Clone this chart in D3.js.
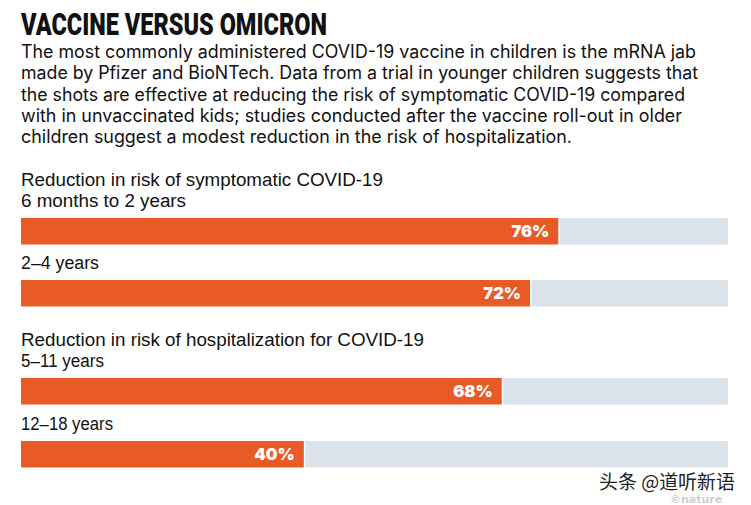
<!DOCTYPE html>
<html>
<head>
<meta charset="utf-8">
<script src="https://cdn.jsdelivr.net/npm/d3@7"></script>
<style>
  html, body { margin: 0; padding: 0; background: #fff; }
  svg { display: block; }
</style>
</head>
<body>
<svg id="chart" width="751" height="505"></svg>
<script>
// ---- data ----
const title = "VACCINE VERSUS OMICRON";
const subtitleLines = [
  "The most commonly administered COVID-19 vaccine in children is the mRNA jab",
  "made by Pfizer and BioNTech. Data from a trial in younger children suggests that",
  "the shots are effective at reducing the risk of symptomatic COVID-19 compared",
  "with in unvaccinated kids; studies conducted after the vaccine roll-out in older",
  "children suggest a modest reduction in the risk of hospitalization."
];
const groups = ["Reduction in risk of symptomatic COVID-19", "Reduction in risk of hospitalization for COVID-19"];
const categories = ["6 months to 2 years", "2–4 years", "5–11 years", "12–18 years"];
const categoryGroup = [0, 0, 1, 1];
const values = [76, 72, 68, 40];
const watermark = "头条 @道听新语";

// ---- layout ----
const svg = d3.select("#chart");
const left = 21, right = 728;
const x = d3.scaleLinear().domain([0, 100]).range([left, right]);
const barTops = [218, 280, 378, 441];
const barH = 26.5;
const orange = "#E95B26", grey = "#DDE3EB";

// title
svg.append("text")
  .attr("x", left).attr("y", 35)
  .attr("font-family", "Roboto, 'Liberation Sans', sans-serif")
  .attr("font-weight", 900)
  .attr("font-size", 31)
  .attr("fill", "#111")
  .attr("textLength", 306).attr("lengthAdjust", "spacingAndGlyphs")
  .text(title);

// subtitle
const sub = svg.append("g");
const subW = [675, 677, 664, 661, 551];
subtitleLines.forEach((line, i) => {
  sub.append("text")
    .attr("x", left).attr("y", 58 + i * 21.3)
    .attr("font-family", "Inter, 'Noto Sans', sans-serif")
    .attr("font-size", 18)
    .attr("fill", "#111")
    .attr("textLength", subW[i]).attr("lengthAdjust", "spacingAndGlyphs")
    .text(line);
});

const labelFont = "'Liberation Sans Narrow', 'Liberation Sans', Arial, sans-serif";
// group headers
const groupFirst = groups.map((g, gi) => categoryGroup.indexOf(gi));
const headerW = [362, 403];
groups.forEach((g, gi) => {
  const idx = groupFirst[gi];
  svg.append("text")
    .attr("x", left).attr("y", barTops[idx] - 11 - 21.5)
    .attr("font-family", labelFont)
    .attr("font-size", 18)
    .attr("fill", "#111")
    .attr("textLength", headerW[gi]).attr("lengthAdjust", "spacingAndGlyphs")
    .text(g);
});

// category labels
const catW = [165, 78, 83, 92];
categories.forEach((c, i) => {
  svg.append("text")
    .attr("x", left).attr("y", barTops[i] - 11)
    .attr("font-family", labelFont)
    .attr("font-size", 18)
    .attr("fill", "#111")
    .attr("textLength", catW[i]).attr("lengthAdjust", "spacingAndGlyphs")
    .text(c);
});

// bars
const rows = svg.append("g").selectAll("g").data(values).join("g");
rows.append("rect")
  .attr("x", (d) => x(d) + 1.5)
  .attr("y", (d, i) => barTops[i])
  .attr("width", (d) => x(100) - x(d) - 1.5)
  .attr("height", barH)
  .attr("fill", grey);
rows.append("rect")
  .attr("x", x(0))
  .attr("y", (d, i) => barTops[i])
  .attr("width", (d) => x(d) - x(0))
  .attr("height", barH)
  .attr("fill", orange);
rows.append("text")
  .attr("x", (d) => x(d) - 9)
  .attr("y", (d, i) => barTops[i] + barH / 2 + 6)
  .attr("text-anchor", "end")
  .attr("font-family", "Inter, sans-serif")
  .attr("font-weight", 900)
  .attr("font-size", 16.5)
  .attr("fill", "#fff")
  .text((d) => d + "%");

// watermark
svg.append("text")
  .attr("x", 670).attr("y", 503)
  .attr("font-family", "'DejaVu Sans', sans-serif")
  .attr("font-weight", 700)
  .attr("font-size", 11)
  .attr("fill", "#d0d0d0")
  .text("©nature");
svg.append("text")
  .attr("x", 599).attr("y", 489)
  .attr("font-family", "'Noto Sans CJK SC', sans-serif")
  .attr("font-size", 19)
  .attr("fill", "#222")
  .attr("textLength", 136).attr("lengthAdjust", "spacingAndGlyphs")
  .text(watermark);
</script>
</body>
</html>
